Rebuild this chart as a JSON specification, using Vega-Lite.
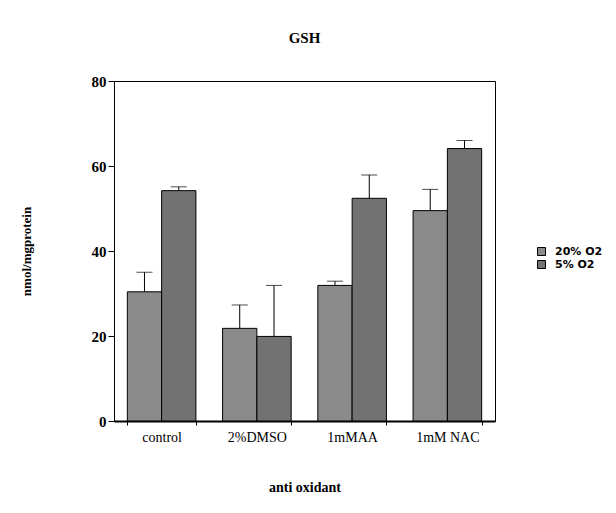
{
  "$schema": "https://vega.github.io/schema/vega-lite/v6.json",
  "width": 381,
  "height": 340,
  "autosize": {"type": "none"},
  "padding": {"left": 114, "top": 81, "right": 121, "bottom": 92},
  "background": "white",
  "title": {"text": "GSH", "font": "Liberation Serif", "fontSize": 15, "fontWeight": "bold", "color": "#000", "offset": 28, "anchor": "middle"},
  "config": {"view": {"stroke": "#000", "strokeWidth": 1}},
  "data": {"values": [
    {"agent": "control", "o2": "20% O2", "value": 30.4, "upper": 35.0},
    {"agent": "control", "o2": "5% O2", "value": 54.2, "upper": 55.1},
    {"agent": "2%DMSO", "o2": "20% O2", "value": 21.8, "upper": 27.3},
    {"agent": "2%DMSO", "o2": "5% O2", "value": 19.9, "upper": 31.9},
    {"agent": "1mMAA", "o2": "20% O2", "value": 31.9, "upper": 32.9},
    {"agent": "1mMAA", "o2": "5% O2", "value": 52.4, "upper": 57.9},
    {"agent": "1mM  NAC", "o2": "20% O2", "value": 49.5, "upper": 54.5},
    {"agent": "1mM  NAC", "o2": "5% O2", "value": 64.1, "upper": 66.0}
  ]},
  "encoding": {
    "x": {
      "field": "agent", "type": "nominal",
      "sort": ["control", "2%DMSO", "1mMAA", "1mM  NAC"],
      "scale": {"paddingInner": 0.28, "paddingOuter": 0.14},
      "axis": {
        "title": "anti oxidant", "titleFont": "Liberation Serif", "titleFontSize": 14, "titleFontWeight": "bold", "titleColor": "#000", "titlePadding": 36,
        "labelFont": "Liberation Serif", "labelFontSize": 14, "labelColor": "#000", "labelAngle": 0, "labelPadding": 5,
        "tickBand": "extent", "tickSize": 4, "tickColor": "#000", "domainColor": "#000", "domainWidth": 2, "grid": false
      }
    },
    "xOffset": {"field": "o2", "type": "nominal", "sort": ["20% O2", "5% O2"], "scale": {"paddingInner": 0, "paddingOuter": 0}}
  },
  "layer": [
    {
      "mark": {"type": "bar", "stroke": "#000", "strokeWidth": 1},
      "encoding": {
        "y": {
          "field": "value", "type": "quantitative",
          "scale": {"domain": [0, 80], "nice": false},
          "axis": {
            "values": [0, 20, 40, 60, 80], "grid": false,
            "title": "nmol/mgprotein", "titleFont": "Liberation Serif", "titleFontSize": 13, "titleFontWeight": "bold", "titleColor": "#000", "titlePadding": 58,
            "labelFont": "Liberation Serif", "labelFontSize": 15, "labelFontWeight": "bold", "labelColor": "#000", "labelPadding": 2,
            "tickSize": 6, "tickColor": "#000", "domainColor": "#000"
          }
        },
        "color": {
          "field": "o2", "type": "nominal",
          "scale": {"domain": ["20% O2", "5% O2"], "range": ["#8a8a8a", "#727272"]},
          "legend": {
            "title": null, "orient": "none", "legendX": 422, "legendY": 165,
            "symbolType": "square", "symbolSize": 64, "symbolStrokeColor": "#000", "symbolStrokeWidth": 1, "symbolOpacity": 1,
            "labelFont": "DejaVu Sans", "labelFontSize": 11, "labelFontWeight": "bold", "labelColor": "#000", "labelOffset": 8, "rowPadding": 0
          }
        }
      }
    },
    {
      "mark": {"type": "rule", "color": "#000", "strokeWidth": 1},
      "encoding": {
        "y": {"field": "value", "type": "quantitative"},
        "y2": {"field": "upper"}
      }
    },
    {
      "mark": {"type": "tick", "color": "#000", "size": 16, "thickness": 1},
      "encoding": {
        "y": {"field": "upper", "type": "quantitative"}
      }
    }
  ]
}
